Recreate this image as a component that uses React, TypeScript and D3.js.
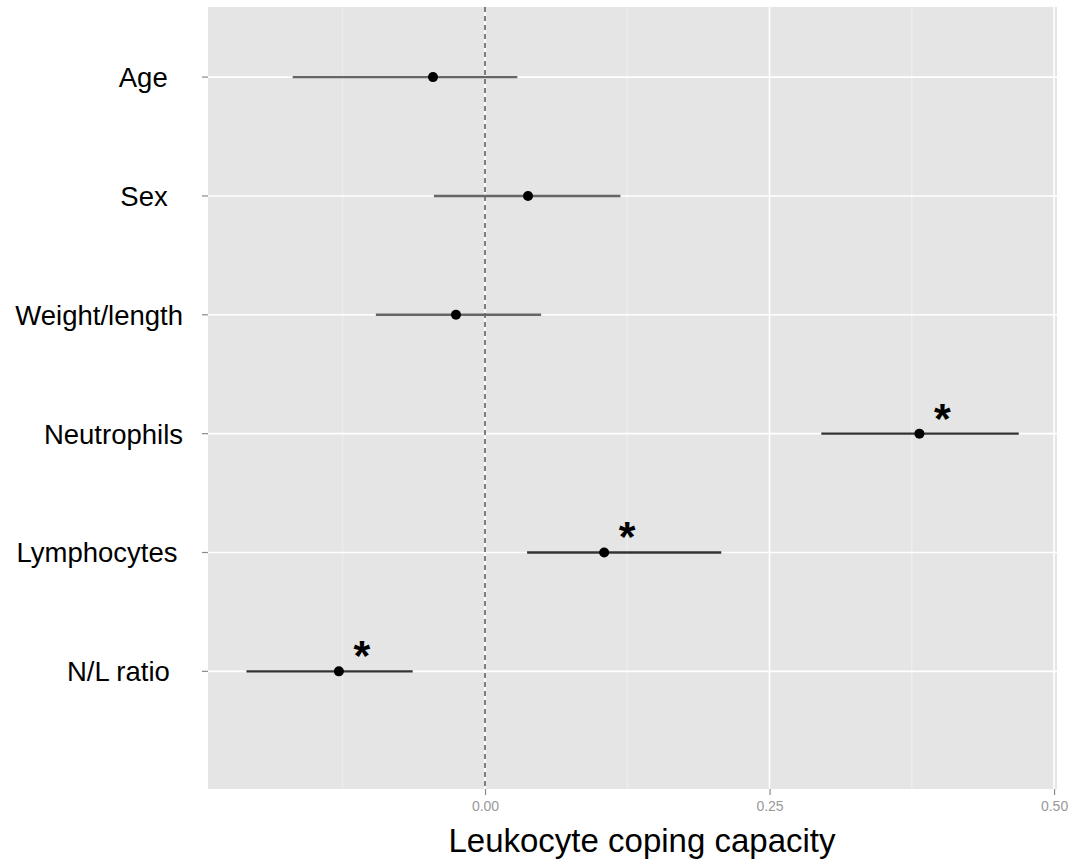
import { useEffect, useRef } from 'react';
import * as d3 from 'd3';

// predictors (trailing spaces kept as in the original labels)
const labels = ['Age  ', 'Sex  ', 'Weight/length', 'Neutrophils', 'Lymphocytes\u2009', 'N/L ratio \u2009'];
const estimates = [-0.0457, 0.0378, -0.0255, 0.3817, 0.1047, -0.1284];
const lowers = [-0.169, -0.0449, -0.0959, 0.2955, 0.037, -0.2096];
const uppers = [0.0284, 0.119, 0.0493, 0.469, 0.2076, -0.0636];
const significant = [false, false, false, true, true, true];
const xTicks = [0, 0.25, 0.5];
const xMinor = [-0.125, 0.125, 0.375];

/* Forest-style coefficient plot */
function App() {
    const svgRef = useRef<SVGSVGElement>(null);
    const width = 1083;
    const height = 859;
    const margin = { top: 7, bottom: 70, left: 208, right: 26 };

    useEffect(() => {
        const svg = d3.select(svgRef.current);
        svg.selectAll('*').remove();

        const x = d3.scaleLinear()
            .domain([-0.2434, 0.5026])
            .range([margin.left, width - margin.right]);

        const y = d3.scaleLinear()
            .domain([-0.59, 5.99])
            .range([margin.top, height - margin.bottom]);

        const idx = d3.range(labels.length);

        // panel
        svg.append('rect')
            .attr('x', margin.left)
            .attr('y', margin.top)
            .attr('width', width - margin.right - margin.left)
            .attr('height', height - margin.bottom - margin.top)
            .attr('fill', '#e5e5e5');

        // minor grid
        svg.append('g').selectAll('line').data(xMinor).enter().append('line')
            .attr('x1', d => x(d)).attr('x2', d => x(d))
            .attr('y1', margin.top).attr('y2', height - margin.bottom)
            .attr('stroke', '#f2f2f2').attr('stroke-width', 0.8);

        // major grid
        svg.append('g').selectAll('line').data(xTicks).enter().append('line')
            .attr('x1', d => x(d)).attr('x2', d => x(d))
            .attr('y1', margin.top).attr('y2', height - margin.bottom)
            .attr('stroke', '#ffffff').attr('stroke-width', 1.6);
        svg.append('g').selectAll('line').data(idx).enter().append('line')
            .attr('x1', margin.left).attr('x2', width - margin.right)
            .attr('y1', i => y(i)).attr('y2', i => y(i))
            .attr('stroke', '#ffffff').attr('stroke-width', 1.6);

        // zero reference line
        svg.append('line')
            .attr('x1', x(0)).attr('x2', x(0))
            .attr('y1', margin.top).attr('y2', height - margin.bottom)
            .attr('stroke', '#555555').attr('stroke-width', 1.5)
            .attr('stroke-dasharray', '5,4');

        // x axis
        const xAxis = d3.axisBottom(x)
            .tickValues(xTicks)
            .tickFormat(d3.format('.2f'))
            .tickSize(6)
            .tickPadding(6)
            .tickSizeOuter(0);
        const gx = svg.append('g')
            .attr('transform', `translate(0, ${height - margin.bottom})`)
            .call(xAxis);
        gx.select('.domain').remove();
        gx.selectAll('line').attr('stroke', '#8a8a8a').attr('stroke-width', 1.2);
        gx.selectAll('text')
            .attr('fill', '#999999')
            .attr('font-size', 14)
            .attr('font-family', 'Liberation Sans, Arial, sans-serif');

        // y axis
        const gy = svg.append('g');
        gy.selectAll('line').data(idx).enter().append('line')
            .attr('x1', margin.left - 6).attr('x2', margin.left)
            .attr('y1', i => y(i)).attr('y2', i => y(i))
            .attr('stroke', '#8a8a8a').attr('stroke-width', 1.2);
        gy.selectAll('text').data(idx).enter().append('text')
            .attr('x', margin.left - 25)
            .attr('y', i => y(i) + 10)
            .attr('text-anchor', 'end')
            .style('white-space', 'pre')
            .attr('font-size', 27.5)
            .attr('font-family', 'Liberation Sans, Arial, sans-serif')
            .attr('fill', '#000')
            .text(i => labels[i]);

        // error bars
        svg.append('g').selectAll('line').data(idx).enter().append('line')
            .attr('x1', i => x(lowers[i])).attr('x2', i => x(uppers[i]))
            .attr('y1', i => y(i)).attr('y2', i => y(i))
            .attr('stroke', i => significant[i] ? '#333333' : '#666666')
            .attr('stroke-width', 2.4);

        // point estimates
        svg.append('g').selectAll('circle').data(idx).enter().append('circle')
            .attr('cx', i => x(estimates[i]))
            .attr('cy', i => y(i))
            .attr('r', 5)
            .attr('fill', '#000');

        // significance marks
        svg.append('g').selectAll('text').data(idx.filter(i => significant[i])).enter().append('text')
            .attr('x', i => x(estimates[i]) + 23)
            .attr('y', i => y(i) - 1)
            .attr('text-anchor', 'middle')
            .attr('font-size', 43)
            .attr('font-weight', 'bold')
            .attr('font-family', 'Liberation Sans, Arial, sans-serif')
            .text('*');

        // x title
        svg.append('text')
            .attr('x', 642)
            .attr('y', 852)
            .attr('text-anchor', 'middle')
            .attr('font-size', 33)
            .attr('font-family', 'Liberation Sans, Arial, sans-serif')
            .attr('fill', '#000')
            .text('Leukocyte coping capacity');
    }, []);

    return (
        <div style={{ position: 'absolute', left: 0, top: 0 }}>
            <svg ref={svgRef} width={width} height={height} style={{ display: 'block', background: '#fff' }}></svg>
        </div>
    );
}

export default App;
